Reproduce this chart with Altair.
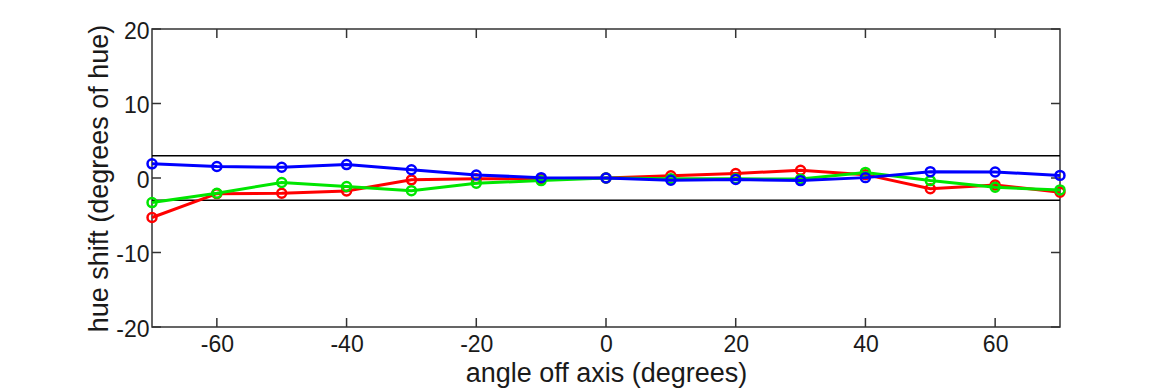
import altair as alt
import pandas as pd

angles = [-70, -60, -50, -40, -30, -20, -10, 0, 10, 20, 30, 40, 50, 60, 70]
red_vals = [-5.3, -2.1, -2.05, -1.75, -0.25, -0.1, -0.1, 0.0, 0.3, 0.6, 1.05, 0.45, -1.45, -0.95, -1.9]
green_vals = [-3.3, -2.05, -0.6, -1.15, -1.7, -0.7, -0.35, 0.0, -0.1, -0.1, -0.15, 0.75, -0.35, -1.25, -1.6]
blue_vals = [1.9, 1.55, 1.45, 1.8, 1.1, 0.4, 0.05, 0.0, -0.3, -0.2, -0.35, 0.05, 0.85, 0.8, 0.35]
series_names = ["red", "green", "blue"]
series_colors = ["#ff0000", "#00e600", "#0000ff"]
limit_lines = [3, -3]
x_ticks = [-60, -40, -20, 0, 20, 40, 60]
y_ticks = [-20, -10, 0, 10, 20]

W, H = 908, 298
TICK = 9
FONT = "Liberation Sans"
FRAME = "#333333"
TXT = "#1a1a1a"

rows = []
for name, vals in zip(series_names, [red_vals, green_vals, blue_vals]):
    for a, v in zip(angles, vals):
        rows.append({"angle": a, "shift": v, "series": name})
df = pd.DataFrame(rows)

xscale = alt.Scale(domain=[-70, 70], nice=False, zero=False)
yscale = alt.Scale(domain=[-20, 20], nice=False, zero=False)

xaxis = alt.Axis(values=x_ticks, ticks=False, domain=False, grid=False,
                 labelExpr="'' + datum.value",
                 labelFontSize=23, labelFont=FONT, labelColor=TXT, labelPadding=6,
                 title="angle off axis (degrees)", titleFontSize=27, titleFont=FONT,
                 titleFontWeight="normal", titleColor=TXT, titlePadding=4)
yaxis = alt.Axis(values=y_ticks, ticks=False, domain=False, grid=False,
                 labelExpr="'' + datum.value", labelOffset=2,
                 labelFontSize=23, labelFont=FONT, labelColor=TXT, labelPadding=3,
                 title="hue shift (degrees of hue)", titleFontSize=27, titleFont=FONT,
                 titleFontWeight="normal", titleColor=TXT, titlePadding=2)

base = alt.Chart(df)

limits = alt.Chart(pd.DataFrame({"y": limit_lines})).mark_rule(
    color="#000000", strokeWidth=1.5
).encode(y=alt.Y("y:Q", scale=yscale, axis=yaxis))

xt = pd.DataFrame({"x": x_ticks})
yt = pd.DataFrame({"y": y_ticks})
tick_bottom = alt.Chart(xt).mark_rule(color=FRAME, strokeWidth=1.5).encode(
    x=alt.X("x:Q", scale=xscale, axis=xaxis), y=alt.value(H - TICK), y2=alt.value(H))
tick_top = alt.Chart(xt).mark_rule(color=FRAME, strokeWidth=1.5).encode(
    x=alt.X("x:Q", scale=xscale), y=alt.value(0), y2=alt.value(TICK))
tick_left = alt.Chart(yt).mark_rule(color=FRAME, strokeWidth=1.5).encode(
    y=alt.Y("y:Q", scale=yscale), x=alt.value(0), x2=alt.value(TICK))
tick_right = alt.Chart(yt).mark_rule(color=FRAME, strokeWidth=1.5).encode(
    y=alt.Y("y:Q", scale=yscale), x=alt.value(W - TICK), x2=alt.value(W))

layers = [limits, tick_bottom, tick_top, tick_left, tick_right]
for name, col in zip(series_names, series_colors):
    sub = base.transform_filter(alt.datum.series == name)
    line = sub.mark_line(color=col, strokeWidth=3).encode(
        x=alt.X("angle:Q", scale=xscale), y=alt.Y("shift:Q", scale=yscale))
    pts = sub.mark_point(color=col, filled=False, size=80, strokeWidth=2.5, opacity=1).encode(
        x=alt.X("angle:Q", scale=xscale), y=alt.Y("shift:Q", scale=yscale))
    layers += [line, pts]

chart = alt.layer(*layers).properties(
    width=W, height=H,
    autosize=alt.AutoSizeParams(type="none"),
    padding={"left": 144, "top": 21, "right": 102, "bottom": 63},
    background="#ffffff",
).configure_view(stroke=FRAME, strokeWidth=1.5)

chart.save("out.html", embed_options={"renderer": "svg", "actions": False})
